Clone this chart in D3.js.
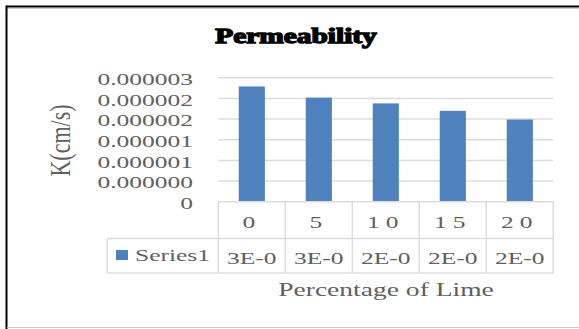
<!DOCTYPE html>
<html>
<head>
<meta charset="utf-8">
<script src="https://cdn.jsdelivr.net/npm/d3@7"></script>
<style>
  html, body { margin: 0; padding: 0; background: #fff; }
  svg { display: block; }
  text { font-family: "Liberation Serif", "Times New Roman", serif; }
</style>
</head>
<body>
<svg id="chart" width="579" height="329"></svg>
<script>
// Permeability (cm/s) for each lime percentage
const categories = ["0", "5", "10", "15", "20"];
const seriesName = "Series1";
const values = [2.79e-6, 2.52e-6, 2.38e-6, 2.2e-6, 1.99e-6];
const tickValues = [0, 0.5e-6, 1e-6, 1.5e-6, 2e-6, 2.5e-6, 3e-6];
const tickLabels = ["0", "0.000000", "0.000001", "0.000001", "0.000002", "0.000002", "0.000003"];

const svg = d3.select("#chart");
const SX = 1.5; // horizontal text stretch of the exported chart

const plot = { left: 218.3, right: 553.3, top: 77.8, bottom: 201.7 };
const table = { legendLeft: 107.3, rowSplit: 238.5, bottom: 273 };
const gridColor = "#dcdcdc";
const textColor = "#5f5f5f";

const x = d3.scaleBand().domain(categories).range([plot.left, plot.right]);
const y = d3.scaleLinear().domain([0, 3e-6]).range([plot.bottom, plot.top]);

// outer frame
svg.append("line").attr("x1", 6.5).attr("x2", 579).attr("y1", 6.5).attr("y2", 6.5)
  .attr("stroke", "#000").attr("stroke-width", 2);
svg.append("line").attr("x1", 7).attr("x2", 579).attr("y1", 8.5).attr("y2", 8.5)
  .attr("stroke", "#ccc").attr("stroke-width", 1);
svg.append("line").attr("x1", 6.5).attr("x2", 6.5).attr("y1", 5.5).attr("y2", 329)
  .attr("stroke", "#000").attr("stroke-width", 2);
svg.append("line").attr("x1", 7).attr("x2", 579).attr("y1", 327.5).attr("y2", 327.5)
  .attr("stroke", "#c8c8c8").attr("stroke-width", 1);

// title
svg.append("text")
  .attr("transform", `translate(296,43) scale(1.47,1)`)
  .attr("text-anchor", "middle")
  .attr("font-size", 20).attr("font-weight", 900)
  .attr("fill", "#000").attr("stroke", "#000").attr("stroke-width", 1.3)
  .text("Permeability");

// gridlines
svg.append("g").selectAll("line")
  .data(tickValues.slice(1))
  .join("line")
  .attr("x1", plot.left).attr("x2", plot.right)
  .attr("y1", d => y(d)).attr("y2", d => y(d))
  .attr("stroke", gridColor).attr("stroke-width", 1.5);

// y tick labels
svg.append("g").selectAll("text")
  .data(tickValues)
  .join("text")
  .attr("transform", d => `translate(193,${y(d) + 1.8}) scale(${SX},1)`)
  .attr("text-anchor", "end")
  .attr("dominant-baseline", "central")
  .attr("font-size", 17)
  .attr("fill", textColor)
  .text((d, i) => tickLabels[i]);

// y axis title
svg.append("text")
  .attr("transform", `translate(60,140.5) scale(1.3,1) rotate(-90)`)
  .attr("text-anchor", "middle")
  .attr("dominant-baseline", "central")
  .attr("font-size", 22)
  .attr("fill", textColor)
  .text("K(cm/s)");

// bars
const barW = x.bandwidth() * 0.39;
svg.append("g").selectAll("rect")
  .data(values)
  .join("rect")
  .attr("x", (d, i) => x(categories[i]) + (x.bandwidth() - barW) / 2)
  .attr("y", d => y(d))
  .attr("width", barW)
  .attr("height", d => plot.bottom - y(d))
  .attr("fill", "#4f81bd");

// data table grid
const tg = svg.append("g").attr("stroke", gridColor).attr("stroke-width", 1.5);
tg.append("line").attr("x1", plot.left).attr("x2", plot.right)
  .attr("y1", plot.bottom).attr("y2", plot.bottom);
tg.append("line").attr("x1", table.legendLeft).attr("x2", plot.right)
  .attr("y1", table.rowSplit).attr("y2", table.rowSplit);
tg.append("line").attr("x1", table.legendLeft).attr("x2", plot.right)
  .attr("y1", table.bottom).attr("y2", table.bottom);
tg.append("line").attr("x1", table.legendLeft).attr("x2", table.legendLeft)
  .attr("y1", table.rowSplit).attr("y2", table.bottom);
tg.selectAll(".v")
  .data(categories.map(c => x(c)).concat([plot.right]))
  .join("line")
  .attr("x1", d => d).attr("x2", d => d)
  .attr("y1", plot.bottom).attr("y2", table.bottom);

// category labels
svg.append("g").selectAll("text")
  .data(categories)
  .join("text")
  .attr("transform", d => `translate(${x(d) + x.bandwidth() / 2},222.5) scale(${SX},1)`)
  .attr("text-anchor", "middle")
  .attr("dominant-baseline", "central")
  .attr("font-size", 17)
  .attr("letter-spacing", 4)
  .attr("fill", textColor)
  .text(d => d);

// value cells, shown in the clipped Excel form (e.g. "3E-0")
const excelSci = v => {
  const [m, e] = v.toExponential(0).split("e");
  const ex = Math.abs(+e);
  return m + "E" + (+e < 0 ? "-" : "+") + String(ex).padStart(2, "0");
};
svg.append("g").selectAll("text")
  .data(values)
  .join("text")
  .attr("transform", (d, i) => `translate(${x(categories[i]) + x.bandwidth() / 2},258.5) scale(${SX},1)`)
  .attr("text-anchor", "middle")
  .attr("dominant-baseline", "central")
  .attr("font-size", 17)
  .attr("fill", textColor)
  .text(d => excelSci(d).slice(0, 4));

// legend key in the table
svg.append("rect")
  .attr("x", 116).attr("y", 250).attr("width", 12).attr("height", 10)
  .attr("fill", "#4f81bd");
svg.append("text")
  .attr("transform", `translate(135,256) scale(${SX},1)`)
  .attr("dominant-baseline", "central")
  .attr("font-size", 17)
  .attr("fill", textColor)
  .text(seriesName);

// x axis title
svg.append("text")
  .attr("transform", `translate(386,290) scale(1.45,1)`)
  .attr("text-anchor", "middle")
  .attr("dominant-baseline", "central")
  .attr("font-size", 19)
  .attr("fill", textColor)
  .text("Percentage of Lime");
</script>
</body>
</html>
